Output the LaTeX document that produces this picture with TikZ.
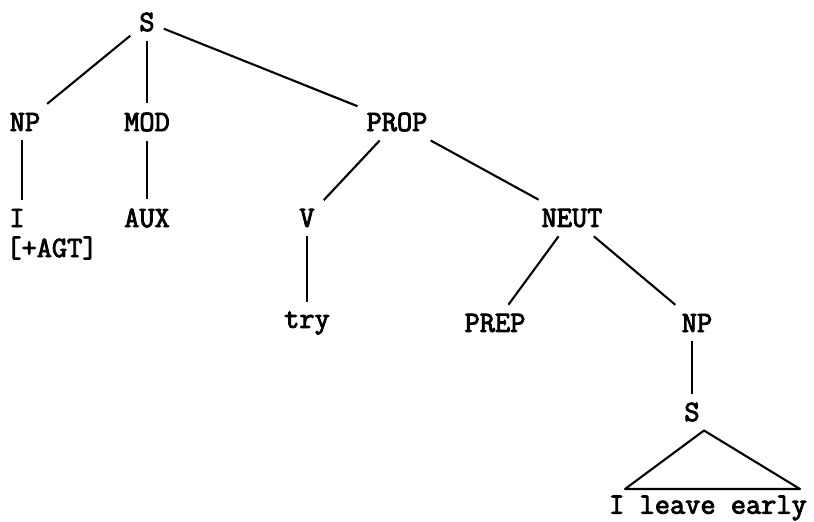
\documentclass[tikz,border=0pt]{standalone}
\usepackage{fontspec}
\usepackage{tikz}
\usetikzlibrary{calc}
\newfontfamily\treefont[FakeBold=3]{Latin Modern Mono}

\begin{document}
\begin{tikzpicture}[x=0.02cm,y=-0.02cm,
    cat/.style={font=\fontsize{16.8}{19}\selectfont\treefont,inner sep=5pt},
    edge/.style={line width=1.2pt}]
  \useasboundingbox (0,0) rectangle (814,521);
  % top level
  \node[cat](s)at(147,22){S};
  \node[cat](np)at(25,122){NP};
  \node[cat](mod)at(147,122){MOD};
  \node[cat](prop)at(397,122){PROP};
  % second level
  \node[cat](i)at(17,218){I};
  \node[cat,anchor=west,inner sep=0pt](agt)at(6,248){[+AGT]};
  \node[cat](aux)at(147,218){AUX};
  \node[cat](v)at(307,218){V};
  \node[cat](neut)at(572,218){NEUT};
  % third level
  \node[cat](try)at(307,323){try};
  \node[cat](prep)at(495,323){PREP};
  \node[cat](np2)at(697,323){NP};
  \node[cat](s2)at(692,412){S};
  \node[cat,inner sep=0pt](lve)at(708,508){I leave early};
  \draw[edge](s)--(np);
  \draw[edge](s)--(mod);
  \draw[edge](s)--(prop);
  \draw[edge]($(np.south -| i.north)+(5,0)$)--($(i.north)+(5,0)$);
  \draw[edge](mod)--(aux);
  \draw[edge](prop)--(v);
  \draw[edge](prop)--(neut);
  \draw[edge](v)--(try);
  \draw[edge](neut)--(prep);
  \draw[edge](neut)--(np2);
  \draw[edge](np2.south -| s2.north)--(s2.north);
  % triangle over the clause
  \coordinate(tl)at(625,489);
  \coordinate(tr)at(800,489);
  \draw[edge,line join=round]($(s2.south)+(12,0)$)--(tl)--(tr)--cycle;
\end{tikzpicture}
\end{document}
